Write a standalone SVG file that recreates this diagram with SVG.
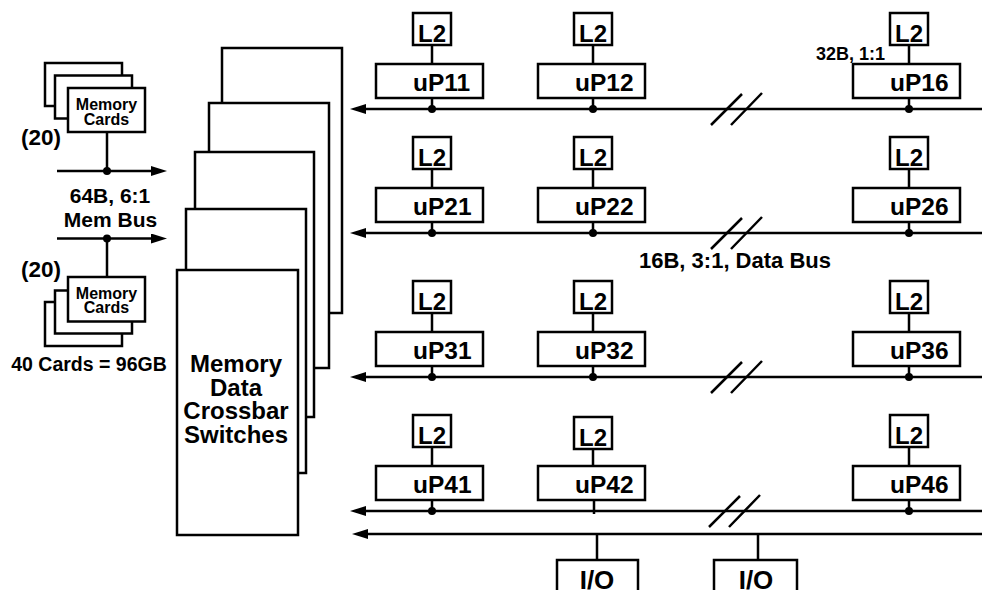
<svg xmlns="http://www.w3.org/2000/svg" width="982" height="590" viewBox="0 0 982 590">
<defs>
<marker id="ah" viewBox="0 0 16 10" markerWidth="16" markerHeight="10" markerUnits="userSpaceOnUse" refX="10" refY="5" orient="auto">
<path d="M0,0 L16,5 L0,10 z" fill="#000"/>
</marker>
<style>
.box{fill:#fff;stroke:#000;stroke-width:2.5}
.ln{stroke:#000;stroke-width:2.5;fill:none}
.bus{stroke:#000;stroke-width:2.5;fill:none;marker-end:url(#ah)}
.dot{fill:#000}
text{font-family:"Liberation Sans",Arial,Helvetica,sans-serif;font-weight:bold;fill:#000}
.l2{font-size:24px;text-anchor:middle}
.up{font-size:24.5px}
.mc{font-size:16px;text-anchor:middle}
.lbl{font-size:21px}
.par{font-size:22.5px}
.sm{font-size:18px}
.xb{font-size:24px;text-anchor:middle}
.io{font-size:26px;text-anchor:middle}
</style>
</defs>
<rect width="982" height="590" fill="#fff"/>

<g id="crossbar">
<rect class="box" x="222" y="48" width="120" height="265"/>
<rect class="box" x="209" y="103" width="120" height="265"/>
<rect class="box" x="195" y="152" width="119" height="265"/>
<rect class="box" x="186" y="209" width="120" height="264"/>
<rect class="box" x="177" y="270" width="121" height="265"/>
<text class="xb" x="236" y="372">Memory</text>
<text class="xb" x="236" y="395.5">Data</text>
<text class="xb" x="236" y="419">Crossbar</text>
<text class="xb" x="236" y="443">Switches</text>
</g>

<g id="memcards-top">
<rect class="box" x="45" y="63" width="77" height="43"/>
<rect class="box" x="55" y="75.5" width="77" height="43"/>
<rect class="box" x="68" y="88" width="77" height="44"/>
<text class="mc" x="106.5" y="110">Memory</text>
<text class="mc" x="106.5" y="125">Cards</text>
<text class="par" x="21" y="145">(20)</text>
</g>

<g id="memcards-bottom">
<rect class="box" x="45" y="302" width="77" height="44"/>
<rect class="box" x="55" y="290.5" width="77" height="43"/>
<rect class="box" x="68" y="277" width="77" height="44.5"/>
<text class="mc" x="106.5" y="298.5">Memory</text>
<text class="mc" x="106.5" y="313">Cards</text>
<text class="par" x="21" y="277">(20)</text>
<text x="89" y="371" text-anchor="middle" style="font-size:19.5px">40 Cards = 96GB</text>
</g>

<g id="membus-label">
<text class="lbl" x="110" y="203" text-anchor="middle">64B, 6:1</text>
<text class="lbl" x="110.5" y="227" text-anchor="middle">Mem Bus</text>
</g>

<g id="row1">
<g id="uP11"><rect class="box" x="413" y="13" width="38" height="32"/><text class="l2" x="432" y="41.5">L2</text><rect class="box" x="376" y="64" width="107" height="34"/><text class="up" x="413" y="90.5">uP11</text></g>
<g id="uP12"><rect class="box" x="574" y="13" width="38" height="32"/><text class="l2" x="593" y="41.5">L2</text><rect class="box" x="538" y="64" width="107" height="34"/><text class="up" x="575" y="90.5">uP12</text></g>
<g id="uP16"><rect class="box" x="890" y="13" width="38" height="32"/><text class="l2" x="909" y="41.5">L2</text><rect class="box" x="853" y="64" width="107" height="34"/><text class="up" x="890" y="90.5">uP16</text></g>
<text class="sm" x="885" y="60" text-anchor="end">32B, 1:1</text>
</g>

<g id="row2">
<g id="uP21"><rect class="box" x="413" y="137" width="38" height="32"/><text class="l2" x="432" y="165.5">L2</text><rect class="box" x="376" y="188" width="107" height="34"/><text class="up" x="413" y="214.5">uP21</text></g>
<g id="uP22"><rect class="box" x="574" y="137" width="38" height="32"/><text class="l2" x="593" y="165.5">L2</text><rect class="box" x="538" y="188" width="107" height="34"/><text class="up" x="575" y="214.5">uP22</text></g>
<g id="uP26"><rect class="box" x="890" y="137" width="38" height="32"/><text class="l2" x="909" y="165.5">L2</text><rect class="box" x="853" y="188" width="107" height="34"/><text class="up" x="890" y="214.5">uP26</text></g>
<text x="639" y="268" style="font-size:22px">16B, 3:1, Data Bus</text>
</g>

<g id="row3">
<g id="uP31"><rect class="box" x="413" y="281" width="38" height="32"/><text class="l2" x="432" y="309.5">L2</text><rect class="box" x="376" y="332" width="107" height="34"/><text class="up" x="413" y="358.5">uP31</text></g>
<g id="uP32"><rect class="box" x="574" y="281" width="38" height="32"/><text class="l2" x="593" y="309.5">L2</text><rect class="box" x="538" y="332" width="107" height="34"/><text class="up" x="575" y="358.5">uP32</text></g>
<g id="uP36"><rect class="box" x="890" y="281" width="38" height="32"/><text class="l2" x="909" y="309.5">L2</text><rect class="box" x="853" y="332" width="107" height="34"/><text class="up" x="890" y="358.5">uP36</text></g>
</g>

<g id="row4">
<g id="uP41"><rect class="box" x="413" y="415" width="38" height="32"/><text class="l2" x="432" y="443.5">L2</text><rect class="box" x="376" y="466" width="107" height="34"/><text class="up" x="413" y="492.5">uP41</text></g>
<g id="uP42"><rect class="box" x="574" y="417" width="38" height="32"/><text class="l2" x="593" y="445.5">L2</text><rect class="box" x="538" y="466" width="107" height="34"/><text class="up" x="575" y="492.5">uP42</text></g>
<g id="uP46"><rect class="box" x="890" y="415" width="38" height="32"/><text class="l2" x="909" y="443.5">L2</text><rect class="box" x="853" y="466" width="107" height="34"/><text class="up" x="890" y="492.5">uP46</text></g>
</g>

<g id="io1"><rect class="box" x="557" y="560" width="81" height="40"/><text class="io" x="597" y="589">I/O</text></g>
<g id="io2"><rect class="box" x="714" y="560" width="83" height="40"/><text class="io" x="756" y="589">I/O</text></g>

<g id="connectors">
<path class="bus" d="M57,171 H161"/>
<path class="bus" d="M57,238.5 H161"/>
<path class="ln" d="M107,132 V171 M107,238.5 V277"/>
<circle class="dot" cx="107" cy="171" r="4"/>
<circle class="dot" cx="107" cy="238.5" r="4"/>
<path class="bus" d="M982,109 H356"/>
<path class="bus" d="M982,233 H356"/>
<path class="bus" d="M982,377 H356"/>
<path class="bus" d="M982,511 H356"/>
<path class="bus" d="M982,534 H358"/>
<path class="ln" d="M432,45 V64 M432,98 V109 M593,45 V64 M593,98 V109 M909,45 V64 M909,98 V109"/>
<circle class="dot" cx="432" cy="109" r="4"/><circle class="dot" cx="593" cy="109" r="4"/><circle class="dot" cx="909" cy="109" r="4"/>
<path class="ln" d="M432,169 V188 M432,222 V233 M593,169 V188 M593,222 V233 M909,169 V188 M909,222 V233"/>
<circle class="dot" cx="432" cy="233" r="4"/><circle class="dot" cx="593" cy="233" r="4"/><circle class="dot" cx="909" cy="233" r="4"/>
<path class="ln" d="M432,313 V332 M432,366 V377 M593,313 V332 M593,366 V377 M909,313 V332 M909,366 V377"/>
<circle class="dot" cx="432" cy="377" r="4"/><circle class="dot" cx="593" cy="377" r="4"/><circle class="dot" cx="909" cy="377" r="4"/>
<path class="ln" d="M432,447 V466 M432,500 V511 M593,449 V466 M594,500 V514 M909,447 V466 M909,500 V511"/>
<circle class="dot" cx="432" cy="511" r="4"/><circle class="dot" cx="909" cy="511" r="4"/>
<path class="ln" d="M597,534 V560 M758,534 V560"/>
<path class="ln" d="M711,125 L742,94 M731,125 L762,93"/>
<path class="ln" d="M711,249 L742,218 M731,249 L762,217"/>
<path class="ln" d="M711,393 L742,362 M731,393 L762,361"/>
<path class="ln" d="M709,527 L740,496 M729,527 L760,495"/>
</g>
</svg>
